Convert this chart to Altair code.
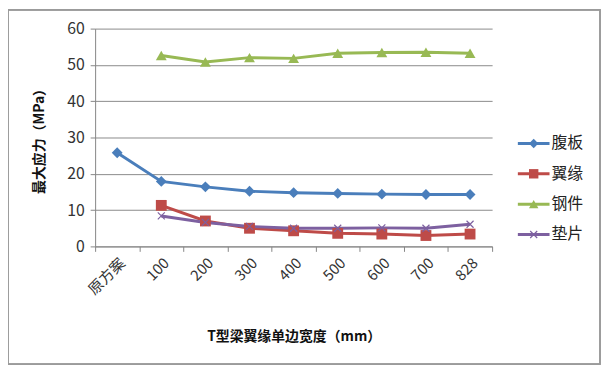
import altair as alt
import pandas as pd

categories = ["原方案", "100", "200", "300", "400", "500", "600", "700", "828"]
series_names = ["腹板", "翼缘", "钢件", "垫片"]
web = [25.8, 17.9, 16.4, 15.2, 14.8, 14.6, 14.4, 14.3, 14.3]
flange = [None, 11.3, 7.0, 5.0, 4.3, 3.6, 3.4, 3.0, 3.4]
steel = [None, 52.6, 50.8, 52.0, 51.8, 53.2, 53.4, 53.5, 53.2]
pad = [None, 8.4, 6.6, 5.5, 5.0, 5.0, 5.1, 5.0, 6.1]
y_ticks = [0, 10, 20, 30, 40, 50, 60]

colors = ["#4A7EBB", "#BE4B48", "#98B954", "#7D60A0"]
xpath = "M-1,-1L1,1M-1,1L1,-1"
shapes = ["diamond", "square", "triangle-up", xpath]

rows = []
for name, vals in zip(series_names, [web, flange, steel, pad]):
    for c, v in zip(categories, vals):
        if v is not None:
            rows.append({"cat": c, "series": name, "val": v})
df = pd.DataFrame(rows)
legend_df = pd.DataFrame({"series": series_names, "idx": list(range(len(series_names)))})

FONT = "Noto Sans CJK SC"
W, H = 401, 220

xenc = alt.X("cat:N", sort=categories, scale=alt.Scale(domain=categories, paddingInner=0, paddingOuter=0),
             axis=alt.Axis(title="T型梁翼缘单边宽度（mm）", labelAngle=-45, labelFontSize=15,
                           labelColor="#333333", labelFont=FONT, tickBand="extent", tickSize=5,
                           tickColor="#868686", domainColor="#868686", grid=False,
                           titleFontSize=14, titleFontWeight="bold", titleColor="#111111",
                           titleFont=FONT, titleY=91, titleBaseline="middle", labelPadding=4))
yenc = alt.Y("val:Q", scale=alt.Scale(domain=[0, 60]),
             axis=alt.Axis(title="最大应力（MPa）", values=y_ticks, labelFontSize=16,
                           labelColor="#333333", labelFont=FONT, tickSize=5, tickColor="#868686",
                           domainColor="#868686", gridColor="#8a8a8a", titleFontSize=14,
                           titleFontWeight="bold", titleColor="#111111", titleFont=FONT,
                           titleX=-56, titleBaseline="middle", labelPadding=6))
color = alt.Color("series:N", scale=alt.Scale(domain=series_names, range=colors), legend=None)
shape = alt.Shape("series:N", scale=alt.Scale(domain=series_names, range=shapes), legend=None)

lines = alt.Chart(df).mark_line(strokeWidth=3).encode(x=xenc, y=yenc, color=color, detail="series:N")
pts_filled = alt.Chart(df).transform_filter(alt.datum.series != "垫片").mark_point(
    filled=True, size=120, opacity=1).encode(x=xenc, y=yenc, color=color, shape=shape)
pts_x = alt.Chart(df).transform_filter(alt.datum.series == "垫片").mark_point(
    filled=False, size=50, strokeWidth=1.2, opacity=1).encode(x=xenc, y=yenc, color=color, shape=shape)

ly = alt.Y("idx:Q", scale=alt.Scale(domain=[0, 3], range=[116, 208]), axis=None)
leg_rule = alt.Chart(legend_df).mark_rule(strokeWidth=3).encode(
    x=alt.value(427), x2=alt.value(459), y=ly, color=color)
leg_pt = alt.Chart(legend_df).transform_filter(alt.datum.series != "垫片").mark_point(
    filled=True, size=90, opacity=1).encode(x=alt.value(443), y=ly, color=color, shape=shape)
leg_x = alt.Chart(legend_df).transform_filter(alt.datum.series == "垫片").mark_point(
    filled=False, size=50, strokeWidth=1.2, opacity=1).encode(x=alt.value(443), y=ly, color=color, shape=shape)
leg_txt = alt.Chart(legend_df).mark_text(align="left", baseline="middle", fontSize=16, font=FONT,
                                          color="#222222").encode(x=alt.value(461), y=ly, text="series:N")

border = alt.Chart(legend_df).mark_rect(fill=None, stroke="#9a9a9a", strokeWidth=1.2).encode(
    x=alt.value(-88), x2=alt.value(510), y=alt.value(-19), y2=alt.value(339))

main = alt.layer(lines, pts_filled, pts_x)
legend = alt.layer(leg_rule, leg_pt, leg_x, leg_txt)

chart = alt.layer(border, main, legend).resolve_scale(y="independent").properties(
    width=W, height=H,
    autosize=alt.AutoSizeParams(type="none"),
    padding={"left": 88, "top": 19, "right": 111, "bottom": 119},
    background="white",
).configure_view(stroke=None)

chart.save("out.html", embed_options={"renderer": "svg", "actions": False})
